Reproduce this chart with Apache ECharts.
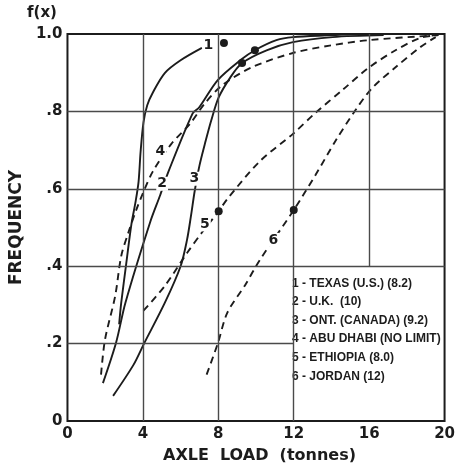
<!DOCTYPE html>
<html>
<head>
<meta charset="utf-8">
<script src="https://cdn.jsdelivr.net/npm/echarts@6/dist/echarts.min.js"></script>
<style>
html,body{margin:0;padding:0;background:#fff;}
#chart{width:458px;height:467px;}
</style>
</head>
<body>
<div id="chart"></div>
<script>
// ---- data ----
var xTicks = [0, 4, 8, 12, 16, 20];
var yTicks = [0, 0.2, 0.4, 0.6, 0.8, 1.0];

var texas = [[2.74,0.25],[2.85,0.305],[3.12,0.408],[3.39,0.508],[3.61,0.566],[3.77,0.618],[3.88,0.697],[4.03,0.771],[4.23,0.816],[4.53,0.849],[5.16,0.899],[6.0,0.932],[7.13,0.964]];
var uk = [[1.88,0.098],[2.58,0.203],[3.07,0.305],[4.38,0.513],[4.92,0.584],[5.36,0.645],[6.64,0.795],[6.98,0.81],[7.97,0.881],[9.16,0.932],[9.94,0.958],[11.08,0.984],[11.96,0.992],[14.06,0.997],[15.0,1.0]];
var ontario = [[2.42,0.065],[3.5,0.145],[4.06,0.2],[5.16,0.305],[6.0,0.4],[6.34,0.468],[6.55,0.53],[6.75,0.595],[7.0,0.66],[7.33,0.724],[7.62,0.776],[8.02,0.836],[8.64,0.888],[9.26,0.925],[10.56,0.958],[11.96,0.979],[14.06,0.992],[16.77,0.997]];
var abuDhabi = [[1.78,0.12],[1.99,0.21],[2.53,0.323],[2.85,0.426],[3.23,0.487],[3.66,0.547],[4.03,0.592],[4.53,0.645],[5.51,0.716],[6.5,0.768],[7.29,0.821],[8.22,0.868],[9.78,0.914],[11.96,0.951],[13.9,0.97],[15.95,0.984],[19.53,0.997],[20,1.0]];
var ethiopia = [[4.03,0.285],[5.16,0.349],[6.34,0.434],[7.13,0.487],[8.02,0.542],[8.48,0.574],[10.2,0.671],[11.96,0.742],[13.17,0.797],[14.58,0.855],[15.95,0.912],[17.4,0.958],[18.71,0.99],[19.68,0.997]];
var jordan = [[7.38,0.12],[7.97,0.2],[8.48,0.28],[9.42,0.351],[10.2,0.416],[12.0,0.545],[13.17,0.637],[14.22,0.724],[15.27,0.803],[16.15,0.86],[17.4,0.914],[18.71,0.966],[19.53,0.992]];

// legal-limit points (filled dots)
var limitDots = [[8.3,0.977],[9.94,0.958],[9.26,0.925],[8.02,0.542],[12.0,0.545]];

// curve number labels
var curveLabelText = ['1','2','3','4','5','6'];
var curveLabelPos = [[7.47,0.971],[5.02,0.613],[6.73,0.626],[4.93,0.697],[7.29,0.508],[10.92,0.468]];

var legendLines = ['1 - TEXAS (U.S.) (8.2)','2 - U.K.  (10)','3 - ONT. (CANADA) (9.2)','4 - ABU DHABI (NO LIMIT)','5 - ETHIOPIA (8.0)','6 - JORDAN (12)'];

// grid line segments in data units: vertical [x, y0, y1], horizontal [y, x0, x1]
var vGrid = [[4,0,1],[8,0,1],[12,0,1],[16,0.4,1]];
var hGrid = [[0.2,0,12],[0.4,0,20],[0.6,0,20],[0.8,0,20]];

var xTitle = 'AXLE  LOAD  (tonnes)';
var yTitle = 'FREQUENCY';
var yTop = 'f(x)';

// ---- chart ----
var FONT = 'DejaVu Sans';
var ink = '#1c1c1c';

var gridSegs = [];
vGrid.forEach(function(g){ gridSegs.push([{coord:[g[0],g[1]]},{coord:[g[0],g[2]]}]); });
hGrid.forEach(function(g){ gridSegs.push([{coord:[g[1],g[0]]},{coord:[g[2],g[0]]}]); });

function curve(name, data, dashed, extra){
  var s = {
    name: name, type:'line', data: data, smooth: 0.3, symbol:'none',
    lineStyle:{color: ink, width: 1.9, type: dashed ? [7,5] : 'solid'},
    z: 3, silent: true
  };
  if (extra) for (var k in extra) s[k] = extra[k];
  return s;
}

var labelData = curveLabelText.map(function(t,i){ return {name:t, value:curveLabelPos[i]}; });

var option = {
  animation: false,
  backgroundColor: '#fff',
  grid: {left:56, right:11, top:34, bottom:46, show:true, borderColor: ink, borderWidth: 2, backgroundColor:'transparent'},
  xAxis: {
    type:'value', min:0, max:20, interval:4,
    axisLine:{show:false}, axisTick:{show:false}, splitLine:{show:false},
    axisLabel:{margin:6, fontFamily:FONT, fontSize:15, fontWeight:'bold', color:ink,
      formatter:function(v){ return xTicks.indexOf(v) >= 0 ? String(v) : ''; }}
  },
  yAxis: {
    type:'value', min:0, max:1, interval:0.2,
    axisLine:{show:false}, axisTick:{show:false}, splitLine:{show:false},
    name: yTitle, nameLocation:'middle', nameRotate:90, nameGap:39,
    nameTextStyle:{fontFamily:FONT, fontSize:17, fontWeight:'bold', color:ink},
    axisLabel:{margin:5, fontFamily:FONT, fontSize:15, fontWeight:'bold', color:ink,
      formatter:function(v){
        var r = Math.round(v*10)/10;
        if (yTicks.indexOf(r) < 0) return '';
        if (r === 0) return '0';
        if (r === 1) return '1.0';
        return '.' + Math.round(r*10);
      }}
  },
  graphic: [
    {type:'text', left:27, top:6, style:{text:yTop, font:'bold 15px "DejaVu Sans"', fill:ink}},
    {type:'text', left:163, top:448, style:{text:xTitle, font:'bold 16px "DejaVu Sans"', fill:ink}},
    {type:'text', left:292, top:274, style:{text:legendLines.join('\n'), font:'bold 12px "Liberation Sans Narrow", "Liberation Sans", sans-serif', fill:ink, lineHeight:18.6}}
  ],
  series: [
    curve('grid', [], false, {
      markLine:{silent:true, symbol:['none','none'], label:{show:false},
        lineStyle:{color:'#4a4a4a', width:1.4, type:'solid'}, data: gridSegs},
      z: 1
    }),
    curve('1', texas, false),
    curve('2', uk, false),
    curve('3', ontario, false),
    curve('4', abuDhabi, true),
    curve('5', ethiopia, true),
    curve('6', jordan, true),
    {type:'scatter', data: limitDots, symbol:'circle', symbolSize:8,
      itemStyle:{color:ink, opacity:1}, z:5, silent:true},
    {type:'scatter', data: labelData, symbolSize:0, z:6, silent:true,
      itemStyle:{opacity:1},
      label:{show:true, position:'inside', formatter:'{b}', fontFamily:FONT, fontSize:14, fontWeight:'bold', color:ink,
        backgroundColor:'#fff', padding:[0,1]}}
  ]
};

var chart = echarts.init(document.getElementById('chart'), null, {renderer:'canvas'});
chart.setOption(option);
</script>
</body>
</html>
